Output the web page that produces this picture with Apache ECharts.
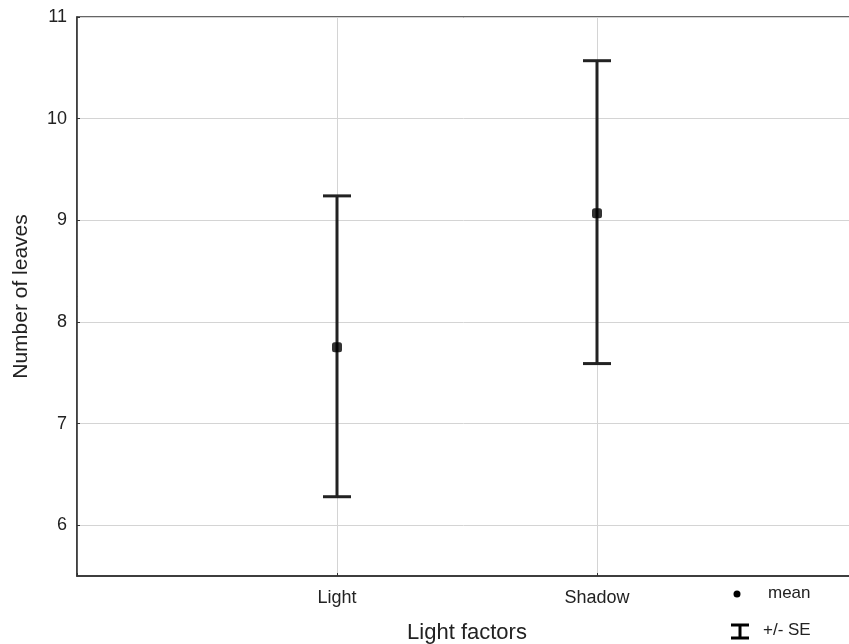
<!DOCTYPE html>
<html>
<head>
<meta charset="utf-8">
<script src="https://cdn.jsdelivr.net/npm/echarts@6/dist/echarts.min.js"></script>
<style>
    html, body { margin: 0; padding: 0; background: #fff; }
    #main { width: 849px; height: 644px; }
</style>
</head>
<body>
<div id="main"></div>
<script>
// 分组与数值
var categories = ['Light', 'Shadow'];
var xPos = [1, 2];
var means = [7.75, 9.07];
var upper = [9.24, 10.57];
var lower = [6.28, 7.59];
var yTicks = [6, 7, 8, 9, 10, 11];

var myChart = echarts.init(document.getElementById('main'));

var meanData = [];
var barData = [];
for (var i = 0; i < categories.length; i++) {
    meanData.push([xPos[i], means[i]]);
    barData.push([xPos[i], lower[i], upper[i]]);
}

var font = 'Liberation Sans, Arial, sans-serif';

var option = {
    animation: false,
    grid: {
        left: 77,
        top: 17,
        width: 780,
        height: 559,
        outerBoundsMode: 'none',
        containLabel: false,
        show: true,
        borderColor: '#333',
        borderWidth: 1.5
    },
    xAxis: {
        type: 'value',
        min: 0,
        max: 3,
        interval: 1,
        name: 'Light factors',
        nameLocation: 'middle',
        nameGap: 46,
        nameTextStyle: { fontFamily: font, fontSize: 22, color: '#222' },
        axisLine: { lineStyle: { color: '#333', width: 1.5 } },
        axisTick: { inside: true, length: 3, lineStyle: { color: '#333' } },
        axisLabel: {
            fontFamily: font, fontSize: 18, color: '#222', margin: 13,
            formatter: function (v) {
                var idx = xPos.indexOf(v);
                return idx >= 0 ? categories[idx] : '';
            }
        },
        splitLine: { show: true, lineStyle: { color: '#d4d4d4', width: 1 } }
    },
    yAxis: {
        type: 'value',
        min: 5.5,
        max: 11,
        name: 'Number of leaves',
        nameLocation: 'middle',
        nameGap: 45,
        nameTextStyle: { fontFamily: font, fontSize: 21, color: '#222' },
        axisLine: { show: true, lineStyle: { color: '#333', width: 1.5 } },
        axisTick: { show: true, inside: true, length: 3, lineStyle: { color: '#333' },
            customValues: yTicks },
        axisLabel: { fontFamily: font, fontSize: 18, color: '#222', margin: 10,
            customValues: yTicks },
        splitLine: { show: true, lineStyle: { color: '#d4d4d4', width: 1 } }
    },
    series: [
        {
            name: '+/- SE',
            type: 'custom',
            data: barData,
            z: 3,
            renderItem: function (params, api) {
                var x = api.value(0);
                var lo = api.coord([x, api.value(1)]);
                var hi = api.coord([x, api.value(2)]);
                var half = 14;
                var style = { stroke: '#222', lineWidth: 3 };
                return {
                    type: 'group',
                    children: [
                        { type: 'line', shape: { x1: lo[0], y1: lo[1], x2: hi[0], y2: hi[1] }, style: style },
                        { type: 'line', shape: { x1: hi[0] - half, y1: hi[1], x2: hi[0] + half, y2: hi[1] }, style: style },
                        { type: 'line', shape: { x1: lo[0] - half, y1: lo[1], x2: lo[0] + half, y2: lo[1] }, style: style }
                    ]
                };
            }
        },
        {
            name: 'mean',
            type: 'scatter',
            data: meanData,
            z: 4,
            symbol: 'roundRect',
            symbolSize: 10,
            itemStyle: { color: '#000' }
        }
    ],
    graphic: [
        { type: 'circle', shape: { cx: 737, cy: 594, r: 3.5 }, style: { fill: '#000' } },
        { type: 'text', left: 768, top: 585, style: { text: 'mean', font: '17px ' + font, fill: '#222' } },
        { type: 'line', shape: { x1: 740, y1: 625, x2: 740, y2: 638 }, style: { stroke: '#000', lineWidth: 3 } },
        { type: 'line', shape: { x1: 731, y1: 625, x2: 749, y2: 625 }, style: { stroke: '#000', lineWidth: 3 } },
        { type: 'line', shape: { x1: 731, y1: 638, x2: 749, y2: 638 }, style: { stroke: '#000', lineWidth: 3 } },
        { type: 'text', left: 763, top: 622, style: { text: '+/- SE', font: '17px ' + font, fill: '#222' } }
    ]
};

myChart.setOption(option);
</script>
</body>
</html>
